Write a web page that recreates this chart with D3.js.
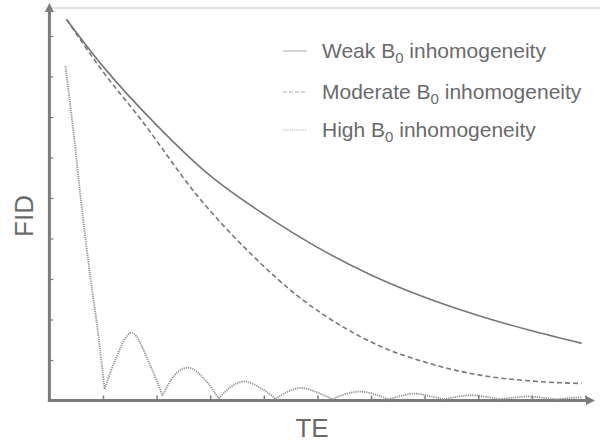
<!DOCTYPE html>
<html>
<head>
<meta charset="utf-8">
<script src="https://cdn.jsdelivr.net/npm/d3@7"></script>
<style>
  body { margin: 0; background: #fff; }
  text { font-family: "Liberation Sans", Arial, sans-serif; fill: #6a6a6a; }
</style>
</head>
<body>
<svg id="chart" width="600" height="443"></svg>
<script>
// values (TE and FID in tick units)
const weakTE  = [0.32, 1.0, 2.0, 3.0, 4.0, 5.0, 6.0, 7.0, 8.0, 9.0, 9.93];
const weakFID = [9.41, 8.25, 6.80, 5.55, 4.60, 3.78, 3.10, 2.55, 2.10, 1.72, 1.41];

const moderateTE  = [0.32, 1.0, 1.70, 2.77, 3.76, 4.69, 5.50, 6.19, 7.0, 8.06, 9.0, 9.93];
const moderateFID = [9.41, 8.12, 6.95, 5.04, 3.62, 2.52, 1.80, 1.33, 0.95, 0.62, 0.48, 0.42];

const highTE  = [0.30, 0.45, 0.58, 0.77, 0.90, 1.03, 1.23, 1.53, 1.89, 2.11, 2.32, 2.58, 2.95, 3.16,
                 3.38, 3.63, 3.95, 4.22, 4.45, 4.68, 5.00, 5.28, 5.50, 5.80, 6.10, 6.32, 6.55, 6.80,
                 7.10, 7.36, 7.60, 7.85, 8.15, 8.40, 8.65, 8.90, 9.20, 9.45, 9.70, 9.93];
const highFID = [8.25, 6.62, 5.04, 2.99, 1.75, 0.28, 1.01, 1.67, 0.84, 0.12, 0.60, 0.81, 0.44, 0.05,
                 0.33, 0.47, 0.30, 0.04, 0.22, 0.31, 0.20, 0.03, 0.15, 0.22, 0.14, 0.03, 0.11, 0.17,
                 0.11, 0.03, 0.09, 0.13, 0.09, 0.03, 0.07, 0.10, 0.07, 0.03, 0.06, 0.08];

const xTicks = [1, 2, 3, 4, 5, 6, 7, 8, 9, 10];
const yTicks = [1, 2, 3, 4, 5, 6, 7, 8, 9];

const legendLabels = ["Weak", "Moderate", "High"];

const svg = d3.select("#chart");

const x = d3.scaleLinear().domain([0, 10]).range([49.4, 585.4]);
const y = d3.scaleLinear().domain([0, 9]).range([400.5, 36]);

const axisColor = "#7c7c7c";

// top frame line
svg.append("line")
    .attr("x1", 49).attr("x2", 600)
    .attr("y1", 8).attr("y2", 8)
    .attr("stroke", "#c4c4c4").attr("stroke-width", 1.2);

// ticks
const xAxis = svg.append("g")
    .attr("transform", "translate(0," + y(0) + ")")
    .call(d3.axisBottom(x).tickValues(xTicks).tickSize(-5).tickFormat(""));
xAxis.select(".domain").remove();
xAxis.selectAll("line").attr("stroke", axisColor).attr("stroke-width", 1.5);

const yAxis = svg.append("g")
    .attr("transform", "translate(" + x(0) + ",0)")
    .call(d3.axisLeft(y).tickValues(yTicks).tickSize(-4).tickFormat(""));
yAxis.select(".domain").remove();
yAxis.selectAll("line").attr("stroke", axisColor).attr("stroke-width", 1.2);

// axis lines with arrow heads
svg.append("line")
    .attr("x1", x(0)).attr("x2", x(0))
    .attr("y1", y(0) + 1.5).attr("y2", 10)
    .attr("stroke", axisColor).attr("stroke-width", 3);
svg.append("path")
    .attr("d", "M" + (x(0) - 4.5) + ",12L" + x(0) + ",3L" + (x(0) + 4.5) + ",12Z")
    .attr("fill", axisColor);

svg.append("line")
    .attr("x1", x(0) - 1.5).attr("x2", 588)
    .attr("y1", y(0)).attr("y2", y(0))
    .attr("stroke", axisColor).attr("stroke-width", 3);
svg.append("path")
    .attr("d", "M586," + (y(0) - 4.5) + "L595," + y(0) + "L586," + (y(0) + 4.5) + "Z")
    .attr("fill", axisColor);

// curves
const line = d3.line()
    .x(d => x(d[0]))
    .y(d => y(d[1]))
    .curve(d3.curveMonotoneX);

const weak = d3.zip(weakTE, weakFID);
const moderate = d3.zip(moderateTE, moderateFID);

// split the oscillating curve at its minima so each lobe keeps a sharp cusp
const high = d3.zip(highTE, highFID);
const lobes = [];
let current = [high[0]];
for (let i = 1; i < high.length; i++) {
    current.push(high[i]);
    const isMin = i < high.length - 1 && high[i][1] < high[i - 1][1] && high[i][1] < high[i + 1][1];
    if (isMin) {
        lobes.push(current);
        current = [high[i]];
    }
}
lobes.push(current);

svg.append("g").selectAll("path")
    .data(lobes)
    .enter().append("path")
    .attr("d", line)
    .attr("fill", "none")
    .attr("stroke", "#8e8e8e")
    .attr("stroke-width", 1.8)
    .attr("stroke-dasharray", "1.2,1");

svg.append("path")
    .datum(moderate)
    .attr("d", line)
    .attr("fill", "none")
    .attr("stroke", "#777")
    .attr("stroke-width", 1.6)
    .attr("stroke-dasharray", "5,3");

svg.append("path")
    .datum(weak)
    .attr("d", line)
    .attr("fill", "none")
    .attr("stroke", "#777")
    .attr("stroke-width", 1.6);

// legend
const legendDash = [null, "4,2", "1.2,1"];
const legendY = [51, 92, 130];

const legend = svg.append("g")
    .selectAll("g")
    .data(legendLabels)
    .enter().append("g")
    .attr("transform", (d, i) => "translate(0," + legendY[i] + ")");

legend.append("line")
    .attr("x1", 283).attr("x2", 307)
    .attr("stroke", "#b0b0b0")
    .attr("stroke-width", 1)
    .attr("stroke-dasharray", (d, i) => legendDash[i]);

const label = legend.append("text")
    .attr("x", 322)
    .attr("y", 7)
    .style("font-size", "21px");
label.append("tspan").text(d => d + " B");
label.append("tspan").attr("dy", 5).style("font-size", "15px").text("0");
label.append("tspan").attr("dy", -5).text(" inhomogeneity");

// axis titles
svg.append("text")
    .attr("transform", "translate(33,216) rotate(-90)")
    .attr("text-anchor", "middle")
    .style("font-size", "26px")
    .text("FID");

svg.append("text")
    .attr("x", 312)
    .attr("y", 437)
    .attr("text-anchor", "middle")
    .style("font-size", "26px")
    .text("TE");
</script>
</body>
</html>
